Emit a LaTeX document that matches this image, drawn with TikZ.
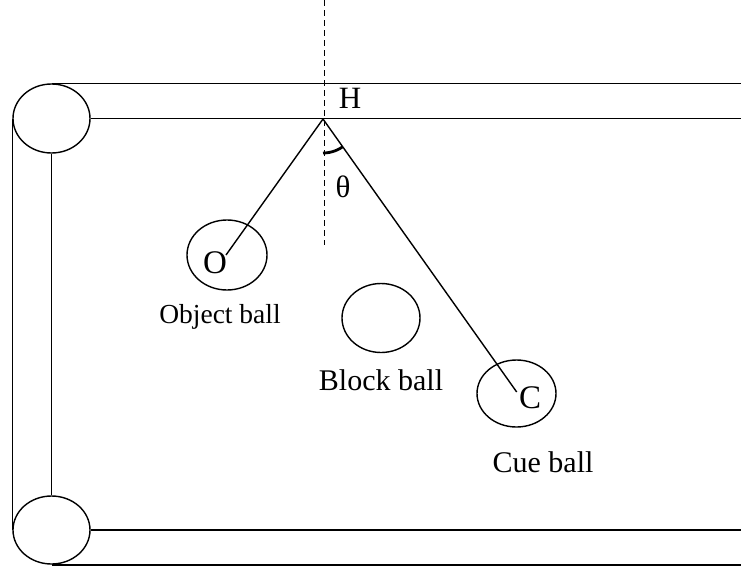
\documentclass[tikz,border=0pt]{standalone}
\usepackage{fontspec}
\setmainfont{Liberation Serif}
\usetikzlibrary{shapes.geometric}
\begin{document}
\begin{tikzpicture}[x=1pt,y=-1pt,
  ball/.style={draw, ellipse, line width=1.4pt, inner sep=0pt},
  rail/.style={line width=1.6pt},
  path/.style={line width=1.4pt},
  lbl/.style={font=\fontsize{30}{34}\selectfont, inner sep=0pt},
  big/.style={font=\fontsize{31}{35}\selectfont, inner sep=0pt}]
\useasboundingbox (0,0) rectangle (741,565);
% pockets
\node[ball, minimum width=77pt, minimum height=69pt] (ptop) at (51.5,118.5) {};
\node[ball, minimum width=77pt, minimum height=68pt] (pbot) at (51.5,530) {};
\coordinate (R1) at (741,85);
\coordinate (R2) at (741,119);
\coordinate (R3) at (741,531);
\coordinate (R4) at (741,564);
% rails
\draw[rail] (ptop.north) -- (ptop.north -| R1);
\draw[rail] (ptop.east) -- (ptop.east -| R2);
\draw[rail] (pbot.east) -- (pbot.east -| R3);
\draw[rail] (pbot.south) -- (pbot.south -| R4);
\draw[rail] (ptop.west) -- (pbot.west);
\draw[rail] (ptop.south) -- (pbot.north);
% balls
\node[ball, minimum width=80pt, minimum height=70pt] (obj) at (227,255) {};
\node[ball, minimum width=78pt, minimum height=69pt] (blk) at (381,318) {};
\node[ball, minimum width=79pt, minimum height=67pt] (cue) at (516.5,393.5) {};
\coordinate (H) at (323,119);
\coordinate (Oc) at (226,255);
\coordinate (Cc) at (516.7,392);
% dashed normal
\coordinate (D1) at (324.5,0);
\coordinate (D2) at (324.5,245);
\draw[line width=1.2pt, dash pattern=on 6pt off 4pt] (D1) -- (D2);
% paths
\draw[path] (H) -- (Oc);
\draw[path] (H) -- (Cc);
% angle arc
\draw[line width=2.8pt] plot[domain=0:35.4, samples=20] ({323+34*sin(\x)}, {119+34*cos(\x)});
% labels
\node[big] (hl) at (350,98) {H};
\node[big] (th) at (343,187) {θ};
\node[big, font=\fontsize{33}{37}\selectfont] (ol) at (215,263) {O};
\node[big, font=\fontsize{33}{37}\selectfont] (cl) at (530,398) {C};
\node[lbl, font=\fontsize{27.5}{31}\selectfont] (objl) at (220,317) {Object ball};
\node[lbl] (blkl) at (381,380) {Block ball};
\node[lbl] (cuel) at (543,462) {Cue ball};
\end{tikzpicture}
\end{document}
